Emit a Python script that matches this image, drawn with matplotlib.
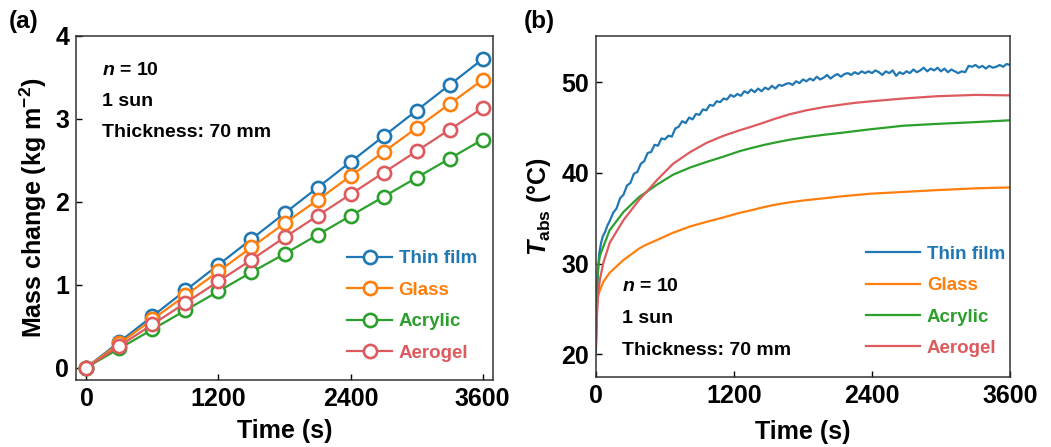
import matplotlib
matplotlib.use('Agg')
import matplotlib.pyplot as plt

plt.rcParams['font.family'] = ['Liberation Sans', 'DejaVu Sans']
plt.rcParams['font.weight'] = 'bold'
plt.rcParams['axes.labelweight'] = 'bold'
plt.rcParams['mathtext.fontset'] = 'custom'
plt.rcParams['mathtext.rm'] = 'Liberation Sans:bold'
plt.rcParams['mathtext.bf'] = 'Liberation Sans:bold'
plt.rcParams['mathtext.it'] = 'Liberation Sans:italic:bold'

# ---- data: panel (a) mass change ----
time_a = [0, 300, 600, 900, 1200, 1500, 1800, 2100, 2400, 2700, 3000, 3300, 3600]
mass_thin = [0, 0.31, 0.62, 0.93, 1.24, 1.55, 1.86, 2.17, 2.48, 2.79, 3.10, 3.41, 3.72]
mass_glass = [0, 0.29, 0.58, 0.87, 1.16, 1.45, 1.74, 2.02, 2.31, 2.60, 2.89, 3.18, 3.47]
mass_acrylic = [0, 0.23, 0.46, 0.69, 0.92, 1.15, 1.37, 1.60, 1.83, 2.06, 2.29, 2.52, 2.75]
mass_aerogel = [0, 0.26, 0.52, 0.78, 1.04, 1.30, 1.57, 1.83, 2.09, 2.35, 2.61, 2.87, 3.13]

# ---- data: panel (b) absorber temperature ----
time_b = [0, 5, 10, 20, 35, 65, 120, 240, 380, 440, 530, 670, 820, 960, 1110,
          1250, 1340, 1450, 1540, 1680, 1830, 1980, 2120, 2250, 2380, 2670,
          2960, 3300, 3600]
temp_glass = [21.0, 24.5, 25.6, 26.5, 27.1, 28.0, 29.0, 30.4, 31.7, 32.1, 32.6, 33.4,
              34.1, 34.6, 35.1, 35.6, 35.85, 36.2, 36.45, 36.75, 37.0, 37.2, 37.4,
              37.55, 37.7, 37.9, 38.1, 38.3, 38.4]
temp_acrylic = [21.5, 25.5, 27.3, 29.7, 30.9, 31.9, 33.7, 35.7, 37.4, 37.9, 38.7, 39.8,
                40.6, 41.2, 41.8, 42.4, 42.7, 43.05, 43.3, 43.65, 43.95, 44.2, 44.4,
                44.6, 44.8, 45.2, 45.4, 45.6, 45.8]
temp_aerogel = [21.0, 23.0, 24.5, 26.8, 28.3, 30.1, 32.3, 34.8, 37.1, 37.9, 39.2, 41.0,
                42.3, 43.3, 44.1, 44.7, 45.05, 45.5, 45.9, 46.45, 46.9, 47.25, 47.5,
                47.72, 47.88, 48.2, 48.45, 48.6, 48.55]

time_thin = [0, 5, 10, 20, 30, 45, 60, 80, 100] + list(range(120, 3601, 30))
temp_thin = [20.2, 24.0, 27.0, 29.6, 31.2, 32.3, 33.0, 33.5, 34.2,
             34.7, 35.6, 36.1, 37.2, 37.6, 38.6, 38.9, 39.9, 40.1, 41.0,
             41.3, 42.2, 42.3, 43.1, 43.0, 43.8, 43.7, 44.1, 44.0, 44.9,
             45.1, 45.7, 45.5, 46.1, 45.9, 46.5, 46.4, 47.0, 46.9, 47.5,
             47.4, 47.9, 47.8, 48.2, 48.1, 48.6, 48.4, 48.7, 48.5, 49.0,
             48.8, 49.2, 48.9, 49.3, 49.0, 49.4, 49.2, 49.6, 49.3, 49.7,
             49.6, 49.8, 49.9, 49.7, 50.1, 49.9, 50.3, 50.1, 50.4, 50.2,
             50.6, 50.3, 50.5, 50.8, 50.4, 50.7, 50.9, 50.6, 50.9, 51.0,
             50.8, 51.1, 50.9, 51.2, 51.0, 51.2, 51.0, 51.3, 51.1, 50.8,
             51.2, 51.0, 51.3, 50.7, 51.1, 50.9, 51.2, 51.0, 51.4, 51.1,
             51.3, 51.6, 51.2, 51.5, 51.3, 51.6, 51.2, 51.5, 51.1, 51.4,
             51.2, 51.0, 51.2, 51.1, 51.8, 51.7, 51.9, 51.6, 51.8, 51.5,
             51.8, 51.6, 51.7, 51.9, 51.7, 52.0, 51.9]

labels = ['Thin film', 'Glass', 'Acrylic', 'Aerogel']
colors = ['#1f77b4', '#ff7f0e', '#2ca02c', '#dd5a5e']

fig = plt.figure(figsize=(10.51, 4.47), dpi=100)
ax1 = fig.add_axes([0.0723, 0.150, 0.3968, 0.7695])
ax2 = fig.add_axes([0.567, 0.1566, 0.394, 0.763])

# panel (a)
for y, lab, c in zip([mass_thin, mass_glass, mass_acrylic, mass_aerogel], labels, colors):
    ax1.plot(time_a, y, '-o', color=c, lw=1.6, ms=9.5, mew=1.9,
             mfc='white', mec=c, label=lab)
ax1.set_xlim(-95, 3695)
ax1.set_ylim(-0.15, 4)
ax1.set_xticks([0, 1200, 2400, 3600])
ax1.set_yticks([0, 1, 2, 3, 4])
ax1.set_xlabel('Time (s)', fontsize=18, labelpad=6)
ax1.set_ylabel('Mass change (kg m$^{-2}$)', fontsize=18, labelpad=4)
leg1 = ax1.legend(loc='upper left', bbox_to_anchor=(0.65, 0.377), frameon=False,
                  fontsize=13.5, handlelength=2.4, handletextpad=0.35,
                  labelspacing=0.76, borderpad=0, borderaxespad=0)
for t, c in zip(leg1.get_texts(), colors):
    t.set_color(c)
for i, s in enumerate(['$n$ = 10', '1 sun', 'Thickness: 70 mm']):
    ax1.text(0.062, 0.90 - i * 0.09, s, transform=ax1.transAxes, fontsize=14,
             va='center', ha='left')

# panel (b)
for x, y, lab, c in zip([time_thin, time_b, time_b, time_b],
                        [temp_thin, temp_glass, temp_acrylic, temp_aerogel],
                        labels, colors):
    ax2.plot(x, y, '-', color=c, lw=1.6, label=lab)
ax2.set_xlim(0, 3600)
ax2.set_ylim(17.5, 55.1)
ax2.set_xticks([0, 1200, 2400, 3600])
ax2.set_yticks([20, 30, 40, 50])
ax2.set_xlabel('Time (s)', fontsize=18, labelpad=9)
ax2.set_ylabel('$T_{\\rm abs}$ (°C)', fontsize=18, labelpad=6)
leg2 = ax2.legend(loc='upper left', bbox_to_anchor=(0.652, 0.385), frameon=False,
                  fontsize=13.5, handlelength=2.9, handletextpad=0.35,
                  labelspacing=0.76, borderpad=0, borderaxespad=0)
for t, c in zip(leg2.get_texts(), colors):
    t.set_color(c)
for i, s in enumerate(['$n$ = 10', '1 sun', 'Thickness: 70 mm']):
    ax2.text(0.062, 0.264 - i * 0.093, s, transform=ax2.transAxes, fontsize=14,
             va='center', ha='left')

for ax in (ax1, ax2):
    ax.tick_params(direction='in', length=4, width=1, labelsize=18, pad=5)
    for sp in ax.spines.values():
        sp.set_linewidth(1.1)
        sp.set_color('#333333')

fig.text(0.008, 0.952, '(a)', fontsize=17.5, ha='left', va='center')
fig.text(0.498, 0.952, '(b)', fontsize=17.5, ha='left', va='center')

fig.savefig('out.png', dpi=100)
